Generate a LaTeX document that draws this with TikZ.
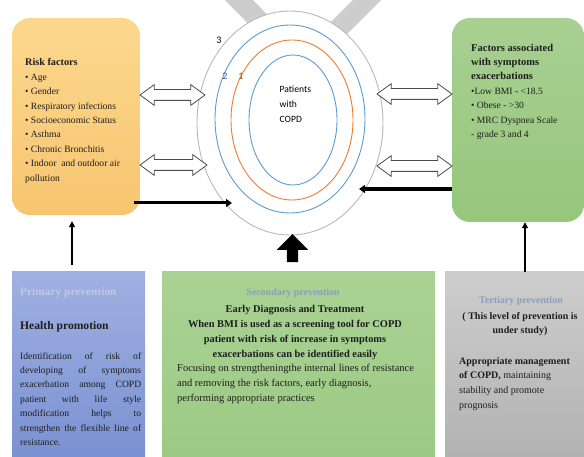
\documentclass[tikz,border=0pt]{standalone}
\usepackage{fontspec}
\setmainfont{Liberation Serif}
\newfontfamily\calfont{Carlito}
\usetikzlibrary{shapes.arrows,shapes.geometric,arrows.meta}
\definecolor{orgtop}{RGB}{252,216,142}
\definecolor{orgbot}{RGB}{247,197,112}
\definecolor{grntop}{RGB}{168,208,146}
\definecolor{grnbot}{RGB}{150,198,124}
\definecolor{blutop}{RGB}{160,176,225}
\definecolor{blubot}{RGB}{122,145,210}
\definecolor{sectop}{RGB}{170,210,148}
\definecolor{secbot}{RGB}{156,202,132}
\definecolor{graytop}{RGB}{205,205,205}
\definecolor{graybot}{RGB}{178,178,178}
\definecolor{stripe}{RGB}{205,205,205}
\definecolor{ringgray}{RGB}{185,185,185}
\definecolor{ringblue}{RGB}{91,155,213}
\definecolor{ringorange}{RGB}{237,125,49}
\definecolor{headgray}{RGB}{140,158,185}
\definecolor{headlight}{RGB}{192,200,228}
\definecolor{txt}{RGB}{30,30,30}
\tikzset{
  roundbox/.style={rectangle, rounded corners=18pt, inner sep=0pt},
  flatbox/.style={rectangle, inner sep=0pt},
  ringnode/.style={ellipse, inner sep=0pt, line width=0.9pt},
  hollow/.style={double arrow, draw=black!70, fill=white, line width=0.8pt,
    minimum width=20pt, double arrow head extend=5pt, double arrow tip angle=72,
    inner xsep=0pt, inner ysep=5pt},
  heavy/.style={line width=3.5pt, -{Triangle[length=6pt,width=8pt]}},
  med/.style={line width=2.2pt, -{Triangle[length=6pt,width=6pt]}},
  bodytext/.style={inner sep=0pt, anchor=north west, text=txt,
    font=\fontsize{9.6}{14.4}\selectfont},
}
\begin{document}
\begin{tikzpicture}[x=1pt,y=-1pt]
\useasboundingbox (0,0) rectangle (584,457);

% gray V stripes behind the rings
\draw[stripe, line width=20pt] (224,-15) -- (300,62);
\draw[stripe, line width=20pt] (382,-15) -- (305,62);

% rings
\node[ringnode, draw=ringgray, fill=white, minimum width=186, minimum height=224] (ring3) at (290,123) {};
\node[ringnode, draw=ringblue, minimum width=150, minimum height=188] (ring2) at (290,119) {};
\node[ringnode, draw=ringorange, minimum width=122, minimum height=160] (ring1) at (292,120) {};
\node[ringnode, draw=ringblue, minimum width=88, minimum height=130] (core) at (293,120) {};
\node[inner sep=0pt, anchor=base, font=\calfont\fontsize{10}{12}\selectfont] (n3) at (219,44) {3};
\node[inner sep=0pt, anchor=base, text=ringblue!60!black, font=\calfont\fontsize{10}{12}\selectfont] (n2) at (225,80) {2};
\node[inner sep=0pt, anchor=base, text=ringorange!60!black, font=\calfont\fontsize{10}{12}\selectfont] (n1) at (241,80) {1};
\node[inner sep=0pt, anchor=north west, align=left, font=\calfont\fontsize{9.6}{15}\selectfont] (pat) at (279.5,86) {Patients\\with\\COPD};

% top boxes
\node[roundbox, top color=orgtop, bottom color=orgbot, minimum width=128, minimum height=197] (risk) at (76,116.5) {};
\node[roundbox, top color=grntop, bottom color=grnbot, minimum width=132, minimum height=204] (factors) at (518,120) {};

\node[bodytext, align=left] (risktxt) at (25,58.6) {\textbf{\fontsize{10.2}{14.4}\selectfont Risk factors}\\
\textbullet\ Age\\ \textbullet\ Gender\\ \textbullet\ Respiratory infections\\ \textbullet\ Socioeconomic Status\\
\textbullet\ Asthma\\ \textbullet\ Chronic Bronchitis\\ \textbullet\ Indoor\ \ and outdoor air\\ pollution};

\node[bodytext, align=left] (factxt) at (471,43.6) {\textbf{\fontsize{10.5}{14.6}\selectfont Factors associated}\\
\textbf{\fontsize{10.5}{14.6}\selectfont with symptoms}\\
\textbf{\fontsize{10.5}{14.6}\selectfont exacerbations}\\
\textbullet Low BMI - <18.5\\ \textbullet\ Obese - >30\\ \textbullet\ MRC Dyspnea Scale\\ - grade 3 and 4};

% hollow double arrows
\node[hollow, minimum height=65] (dl1) at (172.5,95) {};
\node[hollow, minimum height=67] (dl2) at (173.5,165) {};
\node[hollow, minimum height=75] (dr1) at (414.5,94) {};
\node[hollow, minimum height=75] (dr2) at (414.5,166) {};

% bottom boxes
\node[flatbox, top color=blutop, bottom color=blubot, minimum width=133, minimum height=185] (prim) at (78.5,364.5) {};
\node[flatbox, top color=sectop, bottom color=secbot, minimum width=273, minimum height=185] (secd) at (298.5,364.5) {};
\node[flatbox, top color=graytop, bottom color=graybot, minimum width=139, minimum height=185] (terti) at (514.5,364.5) {};

% primary text
\node[inner sep=0pt, anchor=base west, text=headlight, font=\bfseries\fontsize{11.4}{14}\selectfont] (primh) at (20,295) {Primary prevention};
\node[inner sep=0pt, anchor=base west, text=txt, font=\bfseries\fontsize{11.6}{14}\selectfont] (primt) at (20,329) {Health promotion};
\node[bodytext, text width=121, align=justify] (primb) at (20,352.2) {Identification of risk of\linebreak developing of symptoms\linebreak exacerbation among COPD\linebreak patient with life style\linebreak modification helps to\linebreak strengthen the flexible line of\linebreak resistance.};

% secondary text
\node[inner sep=0pt, anchor=base, text=headgray, font=\bfseries\fontsize{10}{14}\selectfont] (sech) at (293,295) {Secondary prevention};
\node[inner sep=0pt, anchor=north, align=center, text=txt, font=\bfseries\fontsize{10.4}{15}\selectfont] (secb) at (295,304.8) {Early Diagnosis and Treatment\\ When BMI is used as a screening tool for COPD\\ patient with risk of increase in symptoms\\ exacerbations can be identified easily};
\node[bodytext, align=left, font=\fontsize{10.5}{15}\selectfont] (secp) at (177,363.8) {Focusing on strengtheningthe internal lines of resistance\\ and removing the risk factors, early diagnosis,\\ performing appropriate practices};

% tertiary text
\node[inner sep=0pt, anchor=base, text=headgray, font=\bfseries\fontsize{10}{14}\selectfont] (terh) at (521,303) {Tertiary prevention};
\node[inner sep=0pt, anchor=north, align=center, text=txt, font=\bfseries\fontsize{10}{14.5}\selectfont] (tert) at (520,312) {( This level of prevention is\\ under study)};
\node[bodytext, align=left, font=\fontsize{10}{14.8}\selectfont] (terb) at (459,357) {\textbf{Appropriate management}\\ \textbf{of COPD,} maintaining\\ stability and promote\\ prognosis};

% connectors
\coordinate (tipL) at (232,203);
\coordinate (tipR) at (359,189);
\coordinate (pa) at (72,265);
\coordinate (ta) at (525,272);
\draw[heavy, line width=3pt] ([xshift=-6pt]risk.east |- tipL) -- (tipL);
\draw[heavy, line width=4.5pt] (factors.west |- tipR) -- (tipR);
\draw[med] (pa) -- ([yshift=-6pt]pa |- risk.south);
\draw[med] (ta) -- (ta |- factors.south);

% big block arrow
\node[single arrow, fill=black, shape border rotate=90, minimum height=28, minimum width=31,
  single arrow head extend=10pt, inner sep=5.5pt] (bigup) at (292.5,251) {};
\end{tikzpicture}
\end{document}
